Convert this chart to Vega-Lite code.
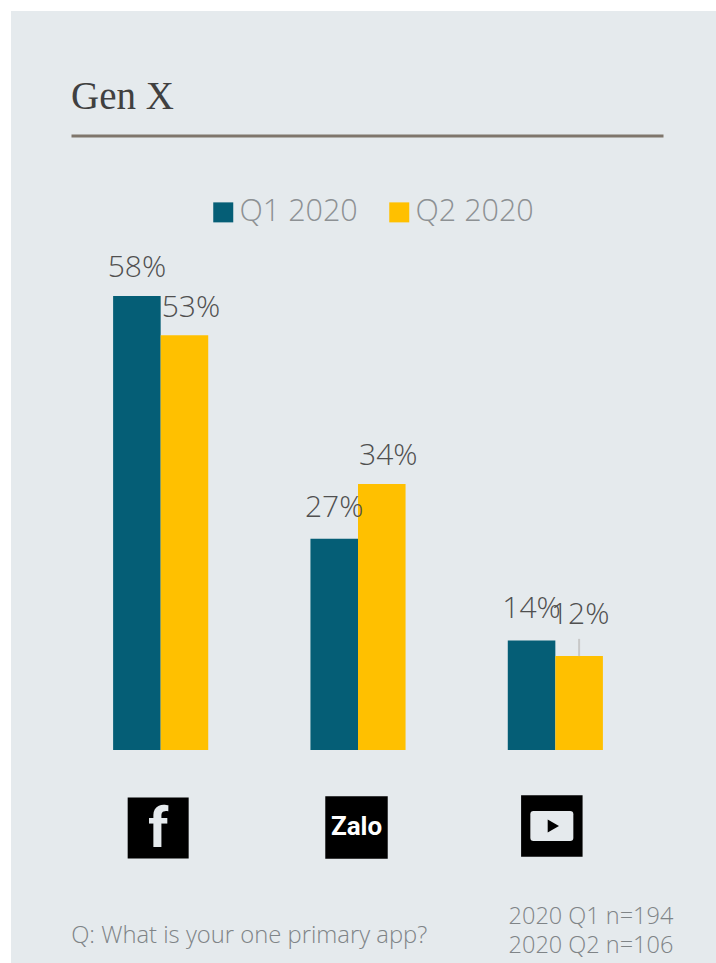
{
  "$schema": "https://vega.github.io/schema/vega-lite/v6.json",
  "width": 705,
  "height": 952,
  "autosize": {"type": "none"},
  "padding": {"left": 11, "top": 11, "right": 0, "bottom": 0},
  "background": "#ffffff",
  "view": {"fill": "#e5eaed", "stroke": null},
  "config": {"font": "Open Sans"},
  "title": {
    "text": "Gen X",
    "anchor": "start",
    "frame": "group",
    "dx": 60,
    "offset": -106,
    "font": "Liberation Serif",
    "fontSize": 39,
    "fontWeight": "normal",
    "color": "#404040"
  },
  "datasets": {
    "scores": [
      {"app": "Facebook", "quarter": "Q1 2020", "value": 0.58},
      {"app": "Facebook", "quarter": "Q2 2020", "value": 0.53},
      {"app": "Zalo", "quarter": "Q1 2020", "value": 0.27},
      {"app": "Zalo", "quarter": "Q2 2020", "value": 0.34},
      {"app": "YouTube", "quarter": "Q1 2020", "value": 0.14},
      {"app": "YouTube", "quarter": "Q2 2020", "value": 0.12}
    ],
    "facebook": [{"app": "Facebook", "glyph": "f"}],
    "zalo": [{"app": "Zalo", "glyph": "Zalo"}],
    "youtube": [{"app": "YouTube"}],
    "question": [{"app": "Facebook", "note": "Q: What is your one primary app?"}],
    "sampleQ1": [{"app": "YouTube", "note": "2020 Q1 n=194"}],
    "sampleQ2": [{"app": "YouTube", "note": "2020 Q2 n=106"}]
  },
  "encoding": {
    "x": {
      "field": "app",
      "type": "nominal",
      "scale": {
        "domain": ["Facebook", "Zalo", "YouTube"],
        "range": [60, 652],
        "paddingInner": 0.518,
        "paddingOuter": 0.259,
        "align": 0.412
      },
      "axis": {
        "orient": "top",
        "offset": -124.5,
        "title": null,
        "labels": false,
        "ticks": false,
        "grid": false,
        "domain": true,
        "domainColor": "#7f766c",
        "domainWidth": 3
      }
    }
  },
  "layer": [
    {
      "data": {"name": "scores"},
      "mark": {"type": "bar"},
      "encoding": {
        "xOffset": {
          "field": "quarter",
          "type": "nominal",
          "scale": {"domain": ["Q1 2020", "Q2 2020"], "paddingInner": 0, "paddingOuter": 0}
        },
        "y": {
          "field": "value",
          "type": "quantitative",
          "stack": null,
          "scale": {"domain": [0, 0.9443], "range": [739, 0], "nice": false, "zero": false},
          "axis": null
        },
        "color": {
          "field": "quarter",
          "type": "nominal",
          "scale": {"domain": ["Q1 2020", "Q2 2020"], "range": ["#055e76", "#ffc000"]},
          "legend": {
            "orient": "none",
            "legendX": 197,
            "legendY": 186,
            "direction": "horizontal",
            "columns": 2,
            "title": null,
            "padding": 0,
            "symbolType": "square",
            "symbolSize": 400,
            "symbolOpacity": 1,
            "symbolStrokeWidth": 0,
            "labelFont": "Open Sans",
            "labelFontSize": 30.5,
            "labelFontWeight": 300,
            "labelColor": "#8d9194",
            "labelOffset": 1,
            "columnPadding": 26
          }
        }
      }
    },
    {
      "data": {"name": "scores"},
      "transform": [{"filter": {"field": "value", "equal": 0.58}}],
      "mark": {"type": "text", "dy": -28, "baseline": "middle", "fontSize": 30, "fontWeight": 300, "color": "#505050"},
      "encoding": {
        "xOffset": {"field": "quarter", "type": "nominal"},
        "y": {"field": "value", "type": "quantitative"},
        "text": {"field": "value", "type": "quantitative", "format": ".0%"}
      }
    },
    {
      "data": {"name": "scores"},
      "transform": [{"filter": {"field": "value", "oneOf": [0.27, 0.14]}}],
      "mark": {"type": "text", "dy": -31, "baseline": "middle", "fontSize": 30, "fontWeight": 300, "color": "#505050"},
      "encoding": {
        "xOffset": {"field": "quarter", "type": "nominal"},
        "y": {"field": "value", "type": "quantitative"},
        "text": {"field": "value", "type": "quantitative", "format": ".0%"}
      }
    },
    {
      "data": {"name": "scores"},
      "transform": [{"filter": {"field": "value", "oneOf": [0.53, 0.34]}}],
      "mark": {"type": "text", "dx": 6.5, "dy": -27.5, "baseline": "middle", "fontSize": 30, "fontWeight": 300, "color": "#505050"},
      "encoding": {
        "xOffset": {"field": "quarter", "type": "nominal"},
        "y": {"field": "value", "type": "quantitative"},
        "text": {"field": "value", "type": "quantitative", "format": ".0%"}
      }
    },
    {
      "data": {"name": "scores"},
      "transform": [{"filter": {"field": "value", "equal": 0.12}}],
      "mark": {"type": "rule", "color": "#c8c8c8", "strokeWidth": 2},
      "encoding": {
        "xOffset": {"field": "quarter", "type": "nominal"},
        "y": {"datum": 0.12, "type": "quantitative"},
        "y2": {"datum": 0.142}
      }
    },
    {
      "data": {"name": "scores"},
      "transform": [{"filter": {"field": "value", "equal": 0.12}}],
      "mark": {"type": "text", "dx": 1, "dy": -41, "baseline": "middle", "fontSize": 30, "fontWeight": 300, "color": "#505050"},
      "encoding": {
        "xOffset": {"field": "quarter", "type": "nominal"},
        "y": {"field": "value", "type": "quantitative"},
        "text": {"field": "value", "type": "quantitative", "format": ".0%"}
      }
    },
    {
      "data": {"name": "facebook"},
      "mark": {"type": "point", "shape": "square", "filled": true, "size": 3720, "opacity": 1, "color": "#000000", "xOffset": -2.5},
      "encoding": {"y": {"datum": -0.0997, "type": "quantitative"}}
    },
    {
      "data": {"name": "facebook"},
      "mark": {"type": "text", "font": "Roboto", "fontWeight": "bold", "fontSize": 56, "baseline": "middle", "color": "#e5eaed", "dx": -2.5, "dy": 2},
      "encoding": {"y": {"datum": -0.0997, "type": "quantitative"}, "text": {"field": "glyph"}}
    },
    {
      "data": {"name": "zalo"},
      "mark": {"type": "point", "shape": "square", "filled": true, "size": 3900, "opacity": 1, "color": "#000000", "xOffset": -1.5},
      "encoding": {"y": {"datum": -0.099, "type": "quantitative"}}
    },
    {
      "data": {"name": "zalo"},
      "mark": {"type": "text", "font": "Roboto", "fontWeight": "bold", "fontSize": 26, "baseline": "middle", "color": "#ffffff", "dx": -1.5},
      "encoding": {"y": {"datum": -0.099, "type": "quantitative"}, "text": {"field": "glyph"}}
    },
    {
      "data": {"name": "youtube"},
      "mark": {"type": "point", "shape": "square", "filled": true, "size": 3780, "opacity": 1, "color": "#000000", "xOffset": -3.5},
      "encoding": {"y": {"datum": -0.0971, "type": "quantitative"}}
    },
    {
      "data": {"name": "youtube"},
      "mark": {
        "type": "point",
        "shape": "M-0.85 -0.7 L0.85 -0.7 Q1 -0.7 1 -0.55 L1 0.55 Q1 0.7 0.85 0.7 L-0.85 0.7 Q-1 0.7 -1 0.55 L-1 -0.55 Q-1 -0.7 -0.85 -0.7 Z",
        "filled": true,
        "size": 1849,
        "opacity": 1,
        "color": "#e5eaed",
        "xOffset": -3.5
      },
      "encoding": {"y": {"datum": -0.0971, "type": "quantitative"}}
    },
    {
      "data": {"name": "youtube"},
      "mark": {"type": "point", "shape": "triangle-right", "filled": true, "size": 170, "opacity": 1, "color": "#000000", "xOffset": -2},
      "encoding": {"y": {"datum": -0.0971, "type": "quantitative"}}
    },
    {
      "data": {"name": "question"},
      "mark": {"type": "text", "align": "left", "baseline": "middle", "dx": -89.5, "fontSize": 23.8, "fontWeight": 300, "color": "#7f8487"},
      "encoding": {"y": {"datum": -0.2375, "type": "quantitative"}, "text": {"field": "note"}}
    },
    {
      "data": {"name": "sampleQ1"},
      "mark": {"type": "text", "align": "right", "baseline": "middle", "dx": 118, "fontSize": 23.5, "fontWeight": 300, "color": "#7f8487"},
      "encoding": {"y": {"datum": -0.2133, "type": "quantitative"}, "text": {"field": "note"}}
    },
    {
      "data": {"name": "sampleQ2"},
      "mark": {"type": "text", "align": "right", "baseline": "middle", "dx": 118, "fontSize": 23.5, "fontWeight": 300, "color": "#7f8487"},
      "encoding": {"y": {"datum": -0.2503, "type": "quantitative"}, "text": {"field": "note"}}
    }
  ]
}
